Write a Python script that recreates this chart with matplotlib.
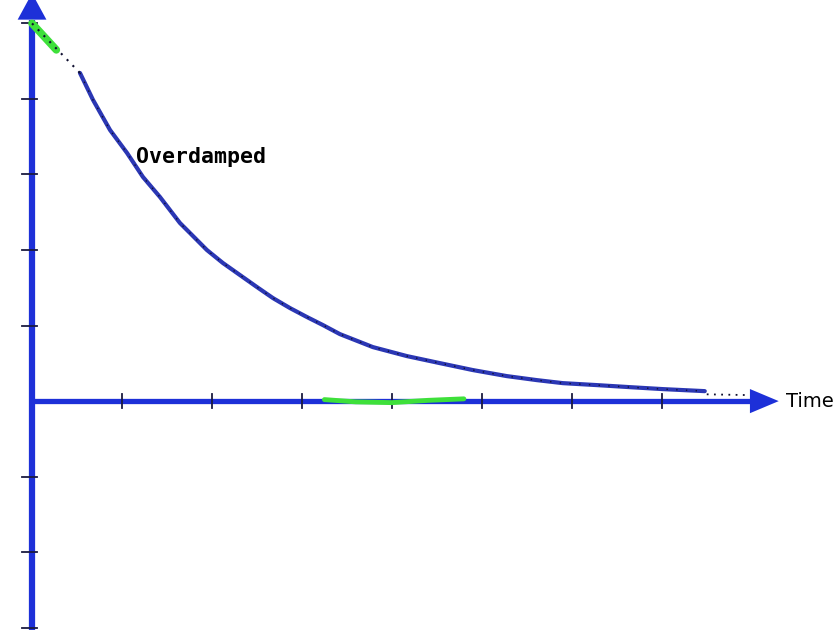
import matplotlib
matplotlib.use("Agg")
import matplotlib.pyplot as plt

# ---- data ----
time = [0.533, 0.678, 0.867, 1.056, 1.233, 1.422, 1.644, 1.756, 1.944, 2.122,
        2.311, 2.5, 2.678, 2.867, 3.056, 3.233, 3.422, 3.789, 4.167, 4.533,
        4.9, 5.278, 5.611, 5.9, 6.278, 6.644, 7.011, 7.478]
displacement = [4.344, 3.987, 3.589, 3.285, 2.967, 2.702, 2.358, 2.225, 2.0,
                1.828, 1.669, 1.51, 1.364, 1.232, 1.113, 1.007, 0.887, 0.715,
                0.596, 0.503, 0.411, 0.331, 0.278, 0.238, 0.212, 0.185, 0.159,
                0.132]

dot_start_t = [0.0, 0.533]
dot_start_y = [5.0, 4.344]
dot_end_t = [7.5, 7.95]
dot_end_y = [0.09, 0.08]

green_start_t = [0.0, 0.27]
green_start_y = [5.0, 4.65]
green_axis_t = [3.25, 3.6, 4.0, 4.4, 4.8]
green_axis_y = [0.02, -0.01, -0.02, 0.01, 0.03]

x_ticks = [1, 2, 3, 4, 5, 6, 7]
y_ticks = [5, 4, 3, 2, 1, -1, -2, -3]

label_curve = "Overdamped"
label_x = "Time"

# ---- layout ----
XMIN, XMAX = -0.356, 8.97
YMIN, YMAX = -3.03, 5.31
x_arrow_base, x_arrow_tip, x_arrow_half = 7.98, 8.30, 0.16
y_arrow_base, y_arrow_tip, y_arrow_half = 5.05, 5.40, 0.16

axis_color = "#1d30d8"
curve_color = "#2b37b4"

fig = plt.figure(figsize=(8.39, 6.30), dpi=100)
ax = fig.add_axes([0, 0, 1, 1])
ax.set_xlim(XMIN, XMAX)
ax.set_ylim(YMIN, YMAX)
ax.axis("off")

# axes lines
ax.plot([0, 0], [YMIN - 0.1, y_arrow_base], color=axis_color, lw=4.5,
        solid_capstyle="butt", zorder=2)
ax.plot([0, x_arrow_base], [0, 0], color=axis_color, lw=3.8,
        solid_capstyle="butt", zorder=2)
ax.fill([x_arrow_base, x_arrow_tip, x_arrow_base],
        [-x_arrow_half, 0, x_arrow_half], color=axis_color, zorder=3, lw=0)
ax.fill([-y_arrow_half, 0, y_arrow_half],
        [y_arrow_base, y_arrow_tip, y_arrow_base], color=axis_color, zorder=3, lw=0)

# ticks
for t in x_ticks:
    ax.plot([t, t], [-0.09, 0.09], color="#1a1a40", lw=1.3, zorder=4)
for v in y_ticks:
    ax.plot([-0.11, 0.05], [v, v], color="#1a1a40", lw=1.3, zorder=4)

# curve
ax.plot(time, displacement, color=curve_color, lw=3.0, zorder=5,
        solid_capstyle="round", solid_joinstyle="round")
ax.plot(time, displacement, color="#101030", lw=1.0, ls=(0, (1, 6)), zorder=6)
ax.plot(dot_start_t, dot_start_y, color="#101030", lw=1.5, ls=(0, (1, 3)), zorder=6)
ax.plot(dot_end_t, dot_end_y, color="#101030", lw=1.3, ls=(0, (1, 3)), zorder=6)

# green traces
ax.plot(green_start_t, green_start_y, color="#3ee03a", lw=5.5, zorder=5,
        solid_capstyle="round")
ax.plot(green_axis_t, green_axis_y, color="#3ee03a", lw=3.5, zorder=4,
        solid_capstyle="round")

# labels
ax.text(1.16, 3.23, label_curve, fontsize=15.5, fontweight="bold",
        family="DejaVu Sans Mono", ha="left", va="center", zorder=7)
ax.text(8.38, 0.0, label_x, fontsize=14, family="DejaVu Sans",
        ha="left", va="center", zorder=7)

fig.savefig("out.png", dpi=100, facecolor="white")
